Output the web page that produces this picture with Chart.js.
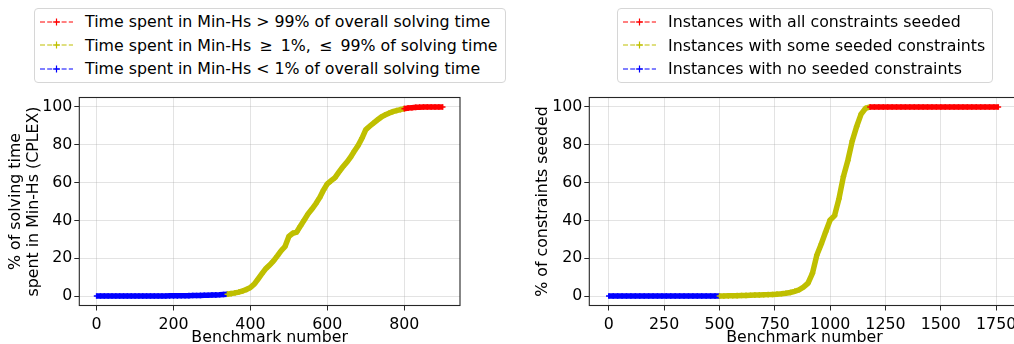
<!DOCTYPE html>
<html>
<head>
<meta charset="utf-8">
<script src="https://cdn.jsdelivr.net/npm/chart.js@4.4.0/dist/chart.umd.min.js"></script>
<style>
  body { margin: 0; width: 1014px; height: 344px; overflow: hidden; background: #fff; position: relative; font-family: "DejaVu Sans", sans-serif; }
  canvas { position: absolute; top: 0; }
  #leftChart { left: 0; }
  #rightChart { left: 520px; }
  .legend { position: absolute; top: 8px; height: 75px; box-sizing: border-box; border: 1px solid #d6d6d6; border-radius: 4px; background: #fff; font-size: 15.8px; color: #000; padding-top: 1px; }
  .legend .row { height: 23.5px; line-height: 23.5px; white-space: pre; display: flex; align-items: center; }
  .legend svg { flex: none; }
</style>
</head>
<body>
<canvas id="leftChart" width="470" height="344"></canvas>
<canvas id="rightChart" width="510" height="344"></canvas>
<div class="legend" id="leftLegend" style="left:34px; width:472px;"></div>
<div class="legend" id="rightLegend" style="left:617px; width:376px;"></div>
<script>
// colours
const RED = '#ff0000';
const YELLOW = '#bfbf00';
const BLUE = '#0000ff';

// left panel: % of solving time spent in Min-Hs, sampled every 10 benchmarks (sorted)
const leftStep = 10;
const leftBlueStart = 0;
const leftBlue = [0, 0, 0, 0, 0, 0, 0, 0, 0, 0, 0, 0, 0, 0, 0, 0.05, 0.05, 0.05, 0.05, 0.1, 0.1, 0.1, 0.15, 0.15,
  0.2, 0.25, 0.3, 0.35, 0.4, 0.45, 0.55, 0.6, 0.7, 0.85, 0.95];
const leftYellowStart = 340;
const leftYellow = [1.0, 1.3, 1.7, 2.1, 2.7, 3.5, 4.5, 6.3, 9.0, 11.8, 14.5, 16.4, 18.6, 21.2, 24.0, 26.2,
  31.5, 33.2, 33.8, 37.0, 40.2, 43.5, 46.0, 48.8, 52.0, 56.0, 59.3, 61.0, 62.6, 65.5, 68.2, 70.6, 73.3,
  76.6, 79.6, 83.4, 88.0, 89.8, 91.5, 93.1, 94.6, 95.8, 96.7, 97.5, 98.1, 98.6, 99.1];
const leftRedStart = 800;
const leftRed = [99.1, 99.4, 99.6, 99.8, 99.9, 100, 100, 100, 100, 100, 100];
const leftXTicks = [0, 200, 400, 600, 800];

// right panel: % of constraints seeded, sampled every 20 benchmarks (sorted)
const rightStep = 20;
const rightBlueStart = 0;
const rightBlue = [0, 0, 0, 0, 0, 0, 0, 0, 0, 0, 0, 0, 0, 0, 0, 0, 0, 0, 0, 0, 0, 0, 0, 0, 0, 0];
const rightYellowStart = 500;
const rightYellow = [0, 0.05, 0.1, 0.15, 0.2, 0.3, 0.35, 0.4, 0.5, 0.6, 0.65, 0.75, 0.85, 1.0, 1.2, 1.5, 1.9,
  2.5, 3.3, 4.8, 6.8, 12.0, 21.7, 27.5, 34.0, 40.2, 42.5, 51.5, 63.2, 71.7, 82.0, 89.7, 96.2, 99.3, 100];
const rightRedStart = 1180;
const rightRed = [100, 100, 100, 100, 100, 100, 100, 100, 100, 100, 100, 100, 100, 100, 100,
  100, 100, 100, 100, 100, 100, 100, 100, 100, 100, 100, 100, 100, 100, 100];
const rightXTicks = [0, 250, 500, 750, 1000, 1250, 1500, 1750];

const yTicks = [0, 20, 40, 60, 80, 100];

const leftLabels = [
  'Time spent in Min-Hs > 99% of overall solving time',
  'Time spent in Min-Hs \u2009\u2265\u2009 1%, \u2009\u2264\u2009 99% of solving time',
  'Time spent in Min-Hs < 1% of overall solving time'
];
const rightLabels = [
  'Instances with all constraints seeded',
  'Instances with some seeded constraints',
  'Instances with no seeded constraints'
];
const legendColors = [RED, YELLOW, BLUE];

const FONT = '"DejaVu Sans", sans-serif';
const FSIZE = 15.8;

function toPoints(start, step, values) {
  return values.map((v, i) => ({ x: start + i * step, y: v }));
}

function series(points, color) {
  return {
    data: points, borderColor: color, backgroundColor: color, borderWidth: 5.5,
    pointStyle: 'cross', pointRadius: 2.8, pointBorderWidth: 1.5, pointBorderColor: color,
    tension: 0, fill: false
  };
}

const framePlugin = {
  id: 'frame',
  afterDatasetsDraw(chart) {
    const { ctx, chartArea: a } = chart;
    ctx.save();
    ctx.strokeStyle = '#262626';
    ctx.lineWidth = 1.1;
    ctx.strokeRect(a.left, a.top, a.right - a.left, a.bottom - a.top);
    ctx.restore();
  }
};

function makeScales(xMin, xMax, xTicks, yTitle, yWidth, yTitlePad) {
  const grid = { color: 'rgba(176,176,176,0.35)', lineWidth: 1, drawTicks: true, tickLength: 5, tickColor: '#262626', tickWidth: 1 };
  return {
    x: {
      type: 'linear', min: xMin, max: xMax,
      afterFit: s => { s.height = 38.5; },
      afterBuildTicks: s => { s.ticks = xTicks.map(v => ({ value: v })); },
      border: { display: false },
      grid: grid,
      ticks: { autoSkip: false, maxRotation: 0, padding: 5, color: '#000', font: { family: FONT, size: FSIZE }, callback: v => String(v) },
      title: { display: true, text: 'Benchmark number', color: '#000', font: { family: FONT, size: FSIZE, lineHeight: 1.2 }, padding: { top: 0, bottom: -3 } }
    },
    y: {
      min: -5, max: 105,
      afterFit: s => { s.width = yWidth; },
      afterBuildTicks: s => { s.ticks = yTicks.map(v => ({ value: v })); },
      border: { display: false },
      grid: grid,
      ticks: { padding: 2, color: '#000', font: { family: FONT, size: FSIZE }, callback: v => String(v) },
      title: { display: true, text: yTitle, color: '#000', font: { family: FONT, size: FSIZE, lineHeight: 1.15 }, padding: { top: yTitlePad, bottom: 0 } }
    }
  };
}

new Chart(document.getElementById('leftChart'), {
  type: 'line',
  data: {
    datasets: [
      series(toPoints(leftRedStart, leftStep, leftRed), RED),
      series(toPoints(leftYellowStart, leftStep, leftYellow), YELLOW),
      series(toPoints(leftBlueStart, leftStep, leftBlue), BLUE)
    ]
  },
  options: {
    responsive: false, animation: false,
    layout: { padding: { top: 97.5, right: 10, left: 0, bottom: 0 } },
    plugins: { legend: { display: false }, tooltip: { enabled: false } },
    scales: makeScales(-45, 945, leftXTicks, ['% of solving time', 'spent in Min-Hs (CPLEX)'], 79.3, 7)
  },
  plugins: [framePlugin]
});

new Chart(document.getElementById('rightChart'), {
  type: 'line',
  data: {
    datasets: [
      series(toPoints(rightRedStart, rightStep, rightRed), RED),
      series(toPoints(rightYellowStart, rightStep, rightYellow), YELLOW),
      series(toPoints(rightBlueStart, rightStep, rightBlue), BLUE)
    ]
  },
  options: {
    responsive: false, animation: false,
    layout: { padding: { top: 97.5, right: 10.4, left: 0, bottom: 0 } },
    plugins: { legend: { display: false }, tooltip: { enabled: false } },
    scales: makeScales(-88, 1856, rightXTicks, '% of constraints seeded', 69.3, 14)
  },
  plugins: [framePlugin]
});

function markerSvg(color) {
  return '<svg width="33" height="12" style="margin:0 12px 0 5px">' +
    '<line x1="0" y1="6" x2="33" y2="6" stroke="' + color + '" stroke-width="1" stroke-dasharray="5 2.2"/>' +
    '<line x1="13" y1="6" x2="20" y2="6" stroke="' + color + '" stroke-width="1.2"/>' +
    '<line x1="16.5" y1="2.5" x2="16.5" y2="9.5" stroke="' + color + '" stroke-width="1.2"/>' +
    '</svg>';
}

function buildLegend(id, labels) {
  document.getElementById(id).innerHTML = labels.map((t, i) =>
    '<div class="row">' + markerSvg(legendColors[i]) + '<span></span></div>').join('');
  document.querySelectorAll('#' + id + ' span').forEach((el, i) => { el.textContent = labels[i]; });
}
buildLegend('leftLegend', leftLabels);
buildLegend('rightLegend', rightLabels);
</script>
</body>
</html>
